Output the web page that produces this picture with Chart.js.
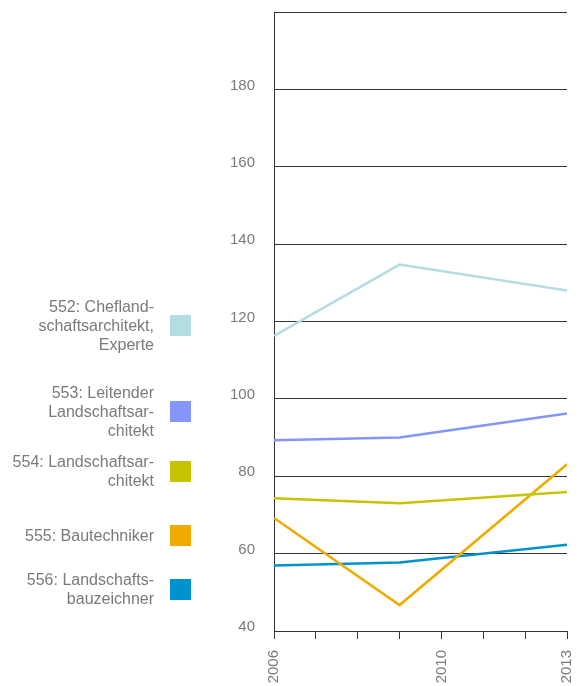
<!DOCTYPE html>
<html>
<head>
<meta charset="utf-8">
<script src="https://cdn.jsdelivr.net/npm/chart.js@4/dist/chart.umd.min.js"></script>
<style>
    body { margin: 0; background: #fff; font-family: "Liberation Sans", Arial, sans-serif; }
    #wrap { position: relative; width: 582px; height: 686px; }
    #chart { position: absolute; left: 0; top: 0; }
    .leg { position: absolute; display: flex; align-items: center; }
    .leg span { text-align: right; white-space: pre-line; color: #7a7a7a; font-size: 16px; line-height: 19px; margin-right: 16px; }
    .leg i { display: block; width: 21px; height: 21px; flex: none; }
</style>
</head>
<body>
<div id="wrap">
    <canvas id="chart" width="582" height="686"></canvas>
</div>
<script>
const years = [2006, 2009, 2013];
const xTickLabels = [2006, 2010, 2013];
const seriesNames = [
    "552: Chefland-\nschaftsarchitekt,\nExperte",
    "553: Leitender\nLandschaftsar-\nchitekt",
    "554: Landschaftsar-\nchitekt",
    "555: Bautechniker",
    "556: Landschafts-\nbauzeichner"
];
const s552 = [116.3, 134.7, 128.0];
const s553 = [89.3, 90.0, 96.2];
const s554 = [74.3, 73.0, 75.9];
const s555 = [69.2, 46.7, 83.1];
const s556 = [56.9, 57.7, 62.3];
const colors = ['#b3dde0', '#8596fb', '#c6c300', '#efab00', '#0092cf'];

// legend square centres (layout only)
const legendCentres = [325, 411, 471, 535, 589];

const allSeries = [s552, s553, s554, s555, s556];

const wrap = document.getElementById('wrap');
seriesNames.forEach((name, i) => {
    const row = document.createElement('div');
    row.className = 'leg';
    const txt = document.createElement('span');
    txt.textContent = name;
    const sq = document.createElement('i');
    sq.style.background = colors[i];
    row.appendChild(txt);
    row.appendChild(sq);
    row.style.right = (582 - 191) + 'px';
    wrap.appendChild(row);
    // centre the row on the square centre
    row.style.top = (legendCentres[i] - row.offsetHeight / 2) + 'px';
});

const datasets = allSeries.map((vals, i) => ({
    label: seriesNames[i],
    data: vals.map((v, j) => ({ x: years[j], y: v })),
    borderColor: colors[i],
    backgroundColor: colors[i],
    borderWidth: 2.5,
    pointRadius: 0,
    tension: 0,
    fill: false
}));

new Chart(document.getElementById('chart'), {
    type: 'line',
    data: { datasets: datasets },
    options: {
        responsive: false,
        animation: false,
        layout: { padding: { top: 12, right: 15, left: 0, bottom: 0 } },
        plugins: { legend: { display: false }, tooltip: { enabled: false } },
        scales: {
            x: {
                type: 'linear',
                min: 2006,
                max: 2013,
                afterFit: function (scale) {
                    scale.height = 55;
                    // let layout.padding decide the plot edges
                    scale.paddingLeft = 0;
                    scale.paddingRight = 0;
                },
                grid: { drawOnChartArea: false, drawTicks: true, tickLength: 8, color: '#333' },
                border: { color: '#333', width: 1 },
                ticks: {
                    stepSize: 1,
                    autoSkip: false,
                    maxRotation: 90,
                    minRotation: 90,
                    padding: 11,
                    color: '#7a7a7a',
                    font: { family: '"Liberation Sans", Arial, sans-serif', size: 15 },
                    callback: function (value) {
                        return xTickLabels.includes(value) ? String(value) : '';
                    }
                }
            },
            y: {
                min: 40,
                max: 200,
                afterFit: function (scale) {
                    scale.width = 274;
                    scale.paddingTop = 0;
                    scale.paddingBottom = 0;
                },
                grid: { drawTicks: false, color: '#333' },
                border: { color: '#333', width: 1 },
                ticks: {
                    stepSize: 20,
                    padding: 19,
                    labelOffset: -4,
                    color: '#7a7a7a',
                    font: { family: '"Liberation Sans", Arial, sans-serif', size: 15 },
                    callback: function (value) {
                        return value === 200 ? '' : value;
                    }
                }
            }
        }
    }
});
</script>
</body>
</html>
